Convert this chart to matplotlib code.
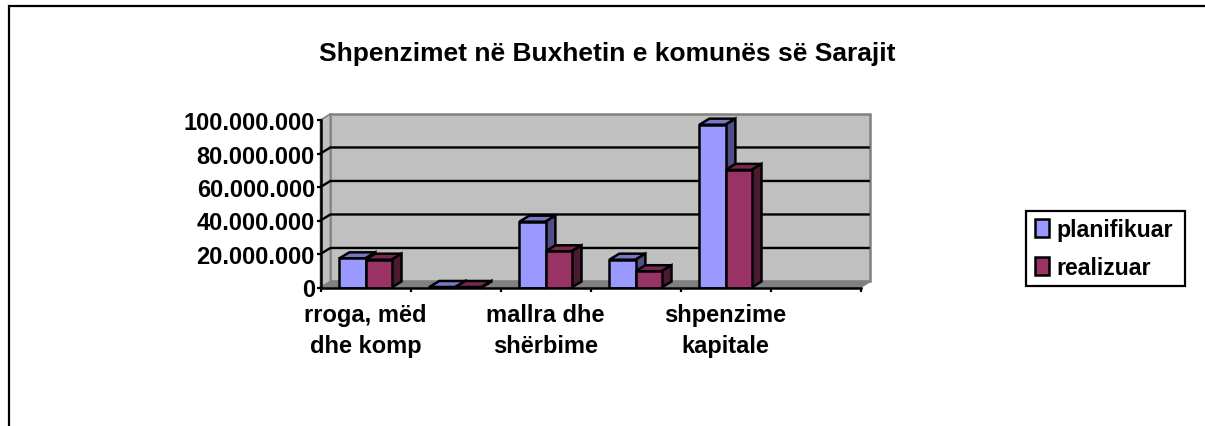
import numpy as np
import matplotlib
matplotlib.use("Agg")
import matplotlib.pyplot as plt
from matplotlib.patches import Polygon, Rectangle

plt.rcParams['font.family'] = ['Liberation Sans', 'DejaVu Sans']
plt.rcParams['font.weight'] = 'bold'

categories = ["rroga, mëd\ndhe komp", "", "mallra dhe\nshërbime", "", "shpenzime\nkapitale", ""]
planifikuar = [17400000, 300000, 39300000, 16600000, 97200000, 0]
realizuar = [16600000, 300000, 21600000, 9700000, 70200000, 0]
yticks = [0, 20000000, 40000000, 60000000, 80000000, 100000000]
ytick_labels = ["0", "20.000.000", "40.000.000", "60.000.000", "80.000.000", "100.000.000"]

W, H = 1205, 427
fig = plt.figure(figsize=(W / 100, H / 100), dpi=100)

# frame of the picture, only top and left are visible
frame = fig.add_axes([0, 0, 1, 1])
frame.set_xlim(0, W)
frame.set_ylim(H, 0)
frame.axis("off")
frame.plot([8.5, 8.5, W], [H, 6.5, 6.5], color="black", lw=1.6, solid_joinstyle="miter")
frame.add_patch(Rectangle((1026, 211.5), 159, 75.5, fc="white", ec="black", lw=1.6))

ax = fig.add_axes([320.5 / W, 1 - 288.5 / H, 540 / W, 167.5 / H])
ax.set_xlim(0, len(categories))
ax.set_ylim(0, 100000000)
ax.patch.set_visible(False)

# depth of the fake 3d effect in data units
dx = 0.11
dy = 3600000
xmax = len(categories)

# back wall, floor, left wall
ax.add_patch(Polygon([[dx, dy], [xmax + dx, dy], [xmax + dx, 100000000 + dy], [dx, 100000000 + dy]],
                     fc="#C0C0C0", ec="#808080", lw=1.8, clip_on=False, zorder=1))
ax.add_patch(Polygon([[0, 0], [dx, dy], [xmax + dx, dy], [xmax, 0]],
                     fc="#808080", ec="#808080", lw=1, clip_on=False, zorder=1))
ax.add_patch(Polygon([[0, 0], [dx, dy], [dx, 100000000 + dy], [0, 100000000]],
                     fc="#C0C0C0", ec="#808080", lw=1.2, clip_on=False, zorder=1))

for t in yticks[1:-1]:
    ax.plot([0, dx, xmax + dx - 0.02], [t, t + dy, t + dy], color="black", lw=1.7,
            clip_on=False, zorder=2, solid_joinstyle="miter")

width = 0.29


def bar3d(x, h, front, top, side):
    ax.add_patch(Polygon([[x, h], [x + dx, h + dy], [x + width + dx, h + dy], [x + width, h]],
                         fc=top, ec="black", lw=1.8, clip_on=False, zorder=3))
    ax.add_patch(Polygon([[x + width, 0], [x + width + dx, dy], [x + width + dx, h + dy], [x + width, h]],
                         fc=side, ec="black", lw=1.8, clip_on=False, zorder=3))
    ax.bar(x, h, width, align="edge", color=front, edgecolor="black", lw=1.8, zorder=4)


pos = np.arange(len(categories)) + 0.5
for i in range(5):
    bar3d(pos[i] - width, planifikuar[i], "#9999FF", "#7777C6", "#4F4F85")
    bar3d(pos[i], realizuar[i], "#993366", "#772850", "#4D1A33")

for s in ["top", "right"]:
    ax.spines[s].set_visible(False)
ax.spines["left"].set_linewidth(1.8)
ax.spines["bottom"].set_linewidth(1.8)
ax.spines["left"].set_zorder(5)
ax.spines["bottom"].set_zorder(5)

ax.set_xticks(np.arange(len(categories) + 1))
ax.set_xticklabels([])
ax.set_xticks(pos, minor=True)
ax.set_xticklabels(categories, minor=True, fontsize=17, fontweight="bold", linespacing=1.45)
ax.tick_params(axis="x", which="major", length=3, width=1.6, direction="out")
ax.tick_params(axis="x", which="minor", length=0, pad=11)
ax.set_yticks(yticks)
ax.set_yticklabels(ytick_labels, fontsize=17, fontweight="bold")
ax.tick_params(axis="y", length=3, width=1.6, pad=1)

fig.text(607 / W, 1 - 54 / H, "Shpenzimet në Buxhetin e komunës së Sarajit",
         ha="center", va="center", fontsize=19, fontweight="bold")

handles = [Rectangle((0, 0), 1, 1, fc="#9999FF", ec="black", lw=1.8),
           Rectangle((0, 0), 1, 1, fc="#993366", ec="black", lw=1.8)]
leg = fig.legend(handles, ["planifikuar", "realizuar"], loc="center left",
                 bbox_to_anchor=(1035 / W, 1 - 249.5 / H), fontsize=16.7, frameon=False,
                 handlelength=0.62, handleheight=0.8, handletextpad=0.3,
                 borderpad=0, labelspacing=0.62, borderaxespad=0)

fig.savefig("out.png", dpi=100)
